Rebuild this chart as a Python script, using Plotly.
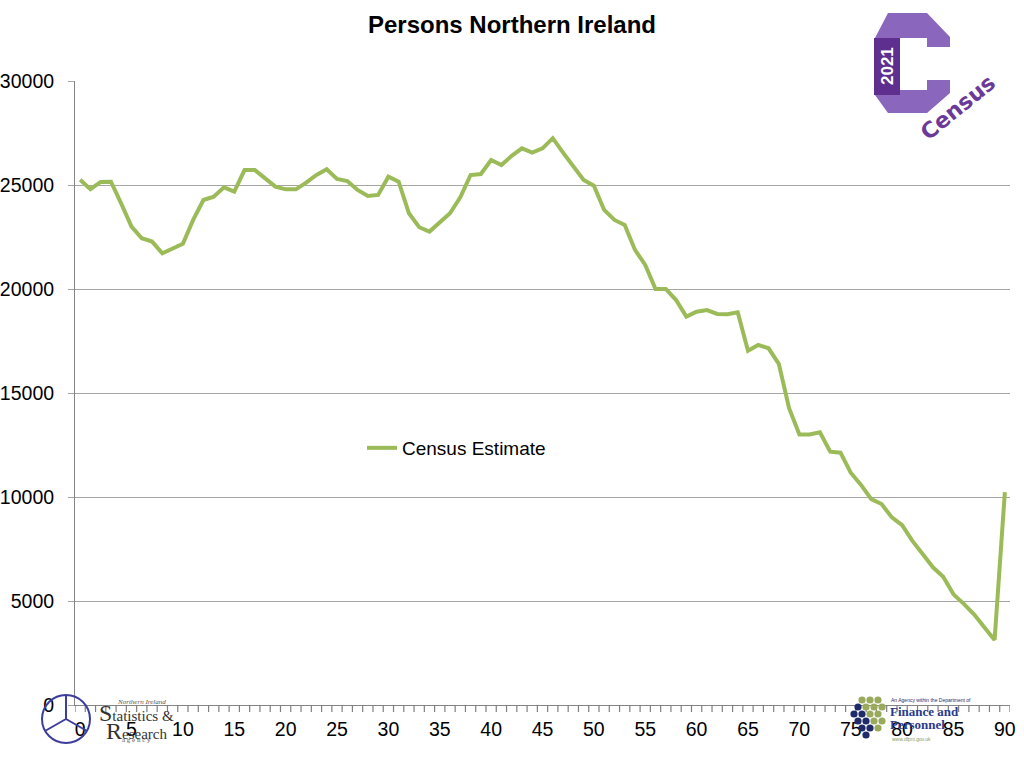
import plotly.graph_objects as go

# ---------------- data ----------------
ages = list(range(0, 91))
persons = [
    25250, 24800, 25150, 25160, 24100, 23000, 22440, 22280, 21720, 21960,
    22170, 23320, 24280, 24440, 24890, 24680, 25720, 25720, 25320, 24920,
    24790, 24790, 25110, 25480, 25760, 25290, 25190, 24760, 24470, 24520,
    25400, 25160, 23640, 22970, 22760, 23190, 23640, 24410, 25480, 25530,
    26200, 25960, 26400, 26760, 26560, 26760, 27250, 26560, 25880, 25240,
    24970, 23800, 23320, 23080, 21880, 21160, 20000, 20000, 19470, 18670,
    18910, 18990, 18800, 18790, 18880, 17030, 17310, 17150, 16400, 14270,
    13010, 13010, 13110, 12180, 12130, 11170, 10580, 9900, 9660, 9020,
    8650, 7890, 7260, 6620, 6170, 5320, 4860, 4360, 3740, 3130,
    10230,
]
series_name = "Census Estimate"
title_text = "Persons Northern Ireland"
x_tickvals = list(range(0, 91, 5))
y_tickvals = [0, 5000, 10000, 15000, 20000, 25000, 30000]
# category boundaries (tick marks between ages, as in a category axis)
x_boundaries = [a - 0.5 for a in ages] + [ages[-1] + 0.5]
x_range = [ages[0] - 0.5, ages[-1] + 0.5]

# ---------------- layout helpers (pixel -> paper) ----------------
W, H = 1024, 768
L, R, T, B = 75, 1010, 81, 705


def px(x):
    return (x - L) / (R - L)


def py(y):
    return (B - y) / (B - T)


def path(points):
    return "M " + " L ".join(f"{px(x):.5f},{py(y):.5f}" for x, y in points) + " Z"


FONT = "Liberation Sans, Arial, sans-serif"
SERIF = "Liberation Serif, Times New Roman, serif"

fig = go.Figure()
fig.add_trace(go.Scatter(
    x=ages, y=persons, mode="lines", name=series_name,
    line=dict(color="#9BBB59", width=4),
    showlegend=True,
))

shapes = []
annotations = []

# tick marks between categories on the x axis (one line shape per boundary)
tick_len = 7 / (B - T)
for b in x_boundaries:
    shapes.append(dict(type="line", xref="x", yref="paper", x0=b, x1=b, y0=0, y1=-tick_len,
                       line=dict(color="#7f7f7f", width=1.2), layer="above"))


def note(x, y, text, size, color, family=FONT, xanchor="center", angle=0):
    annotations.append(dict(x=px(x), y=py(y), xref="paper", yref="paper", text=text,
                            showarrow=False, textangle=angle, xanchor=xanchor,
                            yanchor="middle",
                            font=dict(family=family, size=size, color=color)))


# Census 2021 logo (approximation)
c_pts = [(875, 38), (888, 13), (927, 13), (950, 37), (950, 47), (927, 47), (927, 38),
         (900, 38), (900, 90), (927, 90), (927, 80), (950, 80), (950, 93), (927, 113),
         (888, 113), (875, 95)]
shapes.append(dict(type="path", xref="paper", yref="paper", path=path(c_pts),
                   fillcolor="#8a66bd", line=dict(width=0), layer="above"))
shapes.append(dict(type="path", xref="paper", yref="paper",
                   path=path([(874, 38), (900, 38), (900, 95), (874, 95)]),
                   fillcolor="#5f2f8f", line=dict(width=0), layer="above"))
note(887, 66, "<b>2021</b>", 17, "white", angle=-90)
note(958, 108, "<b>Census</b>", 22, "#6b3a99", family="DejaVu Sans, sans-serif", angle=-39)

# NISRA logo (approximation)
shapes.append(dict(type="circle", xref="paper", yref="paper",
                   x0=px(42), x1=px(90), y0=py(743), y1=py(695),
                   line=dict(color="#3d3d9e", width=2), layer="above"))
shapes.append(dict(type="path", xref="paper", yref="paper",
                   path=(f"M {px(66):.5f},{py(719):.5f} L {px(66):.5f},{py(695):.5f} "
                         f"M {px(66):.5f},{py(719):.5f} L {px(45):.5f},{py(731):.5f} "
                         f"M {px(66):.5f},{py(719):.5f} L {px(87):.5f},{py(731):.5f}"),
                   line=dict(color="#3d3d9e", width=2), layer="above"))
note(115, 702, "<i>Northern Ireland</i>", 7, "#555555", family=SERIF, xanchor="left")
note(97, 713, "<span style='font-size:24px'>S</span>tatistics &", 15, "#333333",
     family=SERIF, xanchor="left")
note(104, 731, "<span style='font-size:24px'>R</span>esearch", 15, "#333333",
     family=SERIF, xanchor="left")
note(120, 740, "a g e n c y", 7, "#555555", family=SERIF, xanchor="left")

# DFP logo (approximation)
navy, green = "#1f2a6b", "#9aaa5c"
dots = [
    (862, 700, green), (870, 700, green), (878, 700, green),
    (858, 707, navy), (866, 707, green), (874, 707, green), (882, 707, green),
    (854, 714, navy), (862, 714, navy), (870, 714, green), (878, 714, green),
    (858, 721, navy), (866, 721, navy), (874, 721, green), (882, 721, green),
    (862, 728, navy), (870, 728, navy), (878, 728, green),
    (866, 735, navy),
]
for dx, dy, col in dots:
    shapes.append(dict(type="circle", xref="paper", yref="paper",
                       x0=px(dx - 3.6), x1=px(dx + 3.6), y0=py(dy + 3.6), y1=py(dy - 3.6),
                       fillcolor=col, line=dict(width=0), layer="above"))
note(889, 700, "An Agency within the Department of", 5, "#1f2a6b", xanchor="left")
note(888, 711, "<b>Finance and</b>", 13, "#2b3a8c", family=SERIF, xanchor="left")
note(888, 725, "<b>Personnel</b>", 13, "#2b3a8c", family=SERIF, xanchor="left")
note(890, 739, "www.dfpni.gov.uk", 5, "#8a9a5a", xanchor="left")

fig.update_layout(
    width=W, height=H,
    margin=dict(l=L, r=W - R, t=T, b=H - B, pad=0, autoexpand=False),
    paper_bgcolor="white", plot_bgcolor="white",
    font=dict(family=FONT, size=19, color="black"),
    title=dict(text="<b>" + title_text + "</b>", x=0.5, xref="container", xanchor="center",
               y=1 - 25 / H, yref="container", yanchor="middle", automargin=False,
               font=dict(family=FONT, size=24, color="black")),
    xaxis=dict(
        range=x_range, tickmode="array", tickvals=x_tickvals,
        ticktext=[str(v) for v in x_tickvals], automargin=False,
        showgrid=False, zeroline=False, showline=True, linecolor="#868686", linewidth=1,
        ticks="", tickfont=dict(family=FONT, size=19.5, color="black"),
        ticklabelstandoff=7,
    ),
    yaxis=dict(
        range=[0, 30000], tickmode="array", tickvals=y_tickvals,
        ticktext=[str(v) for v in y_tickvals], automargin=False,
        showgrid=True, gridcolor="#a6a6a6", gridwidth=1,
        zeroline=False, showline=True, linecolor="#868686", linewidth=1,
        ticks="outside", ticklen=6, tickcolor="#a6a6a6",
        tickfont=dict(family=FONT, size=19.5, color="black"),
        ticklabelstandoff=10,
    ),
    legend=dict(x=px(362), y=py(448), xanchor="left", yanchor="middle",
                bgcolor="rgba(0,0,0,0)", borderwidth=0,
                font=dict(family=FONT, size=19, color="black")),
    shapes=shapes,
    annotations=annotations,
)

fig.write_html("out.html", config={"displayModeBar": False},
               post_script="document.body.style.margin='0';document.body.style.overflow='hidden';")
